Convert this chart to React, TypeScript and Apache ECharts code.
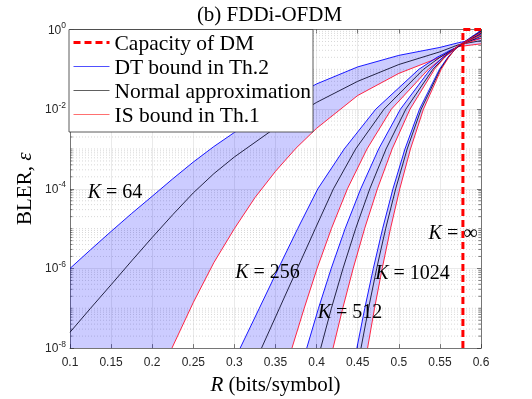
import React, { useEffect, useRef } from "react";
import * as echarts from "echarts";

// ---------- data ----------
const xMin = 0.1;
const xMax = 0.6;
const yMin = 1e-8;
const yMax = 1;

// K = 64
const dt64R = [0.1, 0.125, 0.15, 0.175, 0.2, 0.225, 0.25, 0.275, 0.3, 0.35, 0.4, 0.45, 0.5, 0.55, 0.573, 0.6];
const dt64E = [1.0e-6, 2.95e-6, 8.5e-6, 2.4e-5, 6.5e-5, 1.78e-4, 4.7e-4, 1.15e-3, 2.6e-3, 1.17e-2, 4.3e-2, 0.115, 0.224, 0.355, 0.468, 0.603];
const na64R = [0.1, 0.125, 0.15, 0.175, 0.2, 0.225, 0.25, 0.275, 0.3, 0.35, 0.4, 0.45, 0.5, 0.55, 0.573, 0.6];
const na64E = [2.5e-8, 1.0e-7, 3.9e-7, 1.55e-6, 6.0e-6, 2.24e-5, 7.9e-5, 2.4e-4, 6.3e-4, 3.4e-3, 1.48e-2, 5.0e-2, 0.132, 0.275, 0.417, 0.525];
const is64R = [0.224, 0.25, 0.275, 0.3, 0.325, 0.35, 0.375, 0.4, 0.45, 0.5, 0.55, 0.573, 0.6];
const is64E = [1.0e-8, 1.4e-7, 1.4e-6, 1.0e-5, 6.0e-5, 2.75e-4, 1.05e-3, 3.3e-3, 2.2e-2, 7.9e-2, 0.2, 0.372, 0.437];

// K = 256
const dt256R = [0.307, 0.3303, 0.3535, 0.377, 0.4015, 0.4336, 0.472, 0.5244, 0.5465, 0.5625, 0.576, 0.6];
const dt256E = [1e-8, 1e-7, 1e-6, 1e-5, 1e-4, 1e-3, 1e-2, 0.1, 0.2, 0.3, 0.4, 0.78];
const na256R = [0.333, 0.3548, 0.3766, 0.3984, 0.4205, 0.4475, 0.482, 0.53, 0.55, 0.564, 0.575, 0.6];
const na256E = [1e-8, 1e-7, 1e-6, 1e-5, 1e-4, 1e-3, 1e-2, 0.1, 0.2, 0.3, 0.4, 0.68];
const is256R = [0.37, 0.3849, 0.4006, 0.418, 0.4375, 0.4613, 0.491, 0.536, 0.554, 0.566, 0.574, 0.6];
const is256E = [1e-8, 1e-7, 1e-6, 1e-5, 1e-4, 1e-3, 1e-2, 0.1, 0.2, 0.3, 0.4, 0.6];

// K = 512
const dt512R = [0.388, 0.4023, 0.4178, 0.4347, 0.4537, 0.4755, 0.502, 0.5383, 0.5536, 0.5645, 0.574, 0.6];
const dt512E = [1e-8, 1e-7, 1e-6, 1e-5, 1e-4, 1e-3, 1e-2, 0.1, 0.2, 0.3, 0.4, 0.88];
const na512R = [0.405, 0.418, 0.4321, 0.4475, 0.4647, 0.4845, 0.5086, 0.5415, 0.5553, 0.5655, 0.574, 0.6];
const na512E = [1e-8, 1e-7, 1e-6, 1e-5, 1e-4, 1e-3, 1e-2, 0.1, 0.2, 0.3, 0.4, 0.8];
const is512R = [0.42, 0.4318, 0.4445, 0.4584, 0.474, 0.4919, 0.5137, 0.5434, 0.5559, 0.565, 0.5727, 0.6];
const is512E = [1e-8, 1e-7, 1e-6, 1e-5, 1e-4, 1e-3, 1e-2, 0.1, 0.2, 0.3, 0.4, 0.72];

// K = 1024
const dt1024R = [0.449, 0.4586, 0.469, 0.4803, 0.4929, 0.5075, 0.5252, 0.5494, 0.5596, 0.567, 0.5733, 0.6];
const dt1024E = [1e-8, 1e-7, 1e-6, 1e-5, 1e-4, 1e-3, 1e-2, 0.1, 0.2, 0.3, 0.4, 0.95];
const na1024R = [0.454, 0.4632, 0.4731, 0.484, 0.4962, 0.5102, 0.5272, 0.5505, 0.5603, 0.5675, 0.5735, 0.6];
const na1024E = [1e-8, 1e-7, 1e-6, 1e-5, 1e-4, 1e-3, 1e-2, 0.1, 0.2, 0.3, 0.4, 0.9];
const is1024R = [0.462, 0.4705, 0.4798, 0.4899, 0.5012, 0.5142, 0.53, 0.5516, 0.5607, 0.5673, 0.5729, 0.6];
const is1024E = [1e-8, 1e-7, 1e-6, 1e-5, 1e-4, 1e-3, 1e-2, 0.1, 0.2, 0.3, 0.4, 0.85];

// Capacity of DM
const capR = [0.578, 0.578, 0.6];
const capE = [1e-8, 1, 1];

const legendNames = ["Capacity of DM", "DT bound in Th.2", "Normal approximation", "IS bound in Th.1"];
const kLabels = ["64", "256", "512", "1024", "∞"];

const bands = [
  { dtR: dt64R, dtE: dt64E, naR: na64R, naE: na64E, isR: is64R, isE: is64E },
  { dtR: dt256R, dtE: dt256E, naR: na256R, naE: na256E, isR: is256R, isE: is256E },
  { dtR: dt512R, dtE: dt512E, naR: na512R, naE: na512E, isR: is512R, isE: is512E },
  { dtR: dt1024R, dtE: dt1024E, naR: na1024R, naE: na1024E, isR: is1024R, isE: is1024E },
];

const SERIF = "'Liberation Serif', 'Times New Roman', serif";
const SANS = "'Liberation Sans', Arial, Helvetica, sans-serif";
const AX = "#262626";

const pairs = (r: number[], e: number[]) => r.map((v, i) => [v, e[i]]);

export default function App() {
  const ref = useRef<HTMLDivElement>(null);
  useEffect(() => {
    const chart = echarts.init(ref.current!, null, { renderer: "svg" });

    const minorVals: number[] = [];
    for (let d = -8; d < 0; d++) {
      for (let m = 1; m <= 9; m++) {
        if (m === 1 && d % 2 === 0) continue;
        minorVals.push(m * Math.pow(10, d));
      }
    }

    const lineSeries: any[] = [];
    bands.forEach((b) => {
      lineSeries.push({
        type: "line", name: legendNames[1], data: pairs(b.dtR, b.dtE), symbol: "none", z: 3, silent: true,
        lineStyle: { color: "#0000ff", width: 0.9 }, itemStyle: { color: "#0000ff" },
      });
      lineSeries.push({
        type: "line", name: legendNames[2], data: pairs(b.naR, b.naE), symbol: "none", z: 3, silent: true,
        lineStyle: { color: "#101030", width: 0.9 }, itemStyle: { color: "#101030" },
      });
      lineSeries.push({
        type: "line", name: legendNames[3], data: pairs(b.isR, b.isE), symbol: "none", z: 3, silent: true,
        lineStyle: { color: "#ff1030", width: 0.9 }, itemStyle: { color: "#ff1030" },
      });
    });

    const kText = (i: number, x: number, y: number) => ({
      type: "text", x, y, z: 50,
      style: {
        text: "{i|K} = " + kLabels[i],
        fontFamily: SERIF, fontSize: 20, fill: "#000", align: "center", verticalAlign: "middle",
        rich: { i: { fontFamily: SERIF, fontSize: 20, fontStyle: "italic", fill: "#000" } },
      },
    });

    const option: any = {
      animation: false,
      grid: { left: 70, top: 29.5, width: 411, height: 323.2, containLabel: false },
      xAxis: [
        {
          type: "value", min: xMin, max: xMax, interval: 0.05, position: "bottom",
          name: "{i|R} (bits/symbol)", nameLocation: "middle", nameGap: 24,
          nameTextStyle: {
            fontFamily: SERIF, fontSize: 21, color: "#000",
            rich: { i: { fontFamily: SERIF, fontSize: 21, fontStyle: "italic", color: "#000" } },
          },
          axisLine: { show: true, lineStyle: { color: AX, width: 0.6 } },
          axisTick: { show: true, inside: true, length: 4, lineStyle: { color: AX, width: 0.6 } },
          axisLabel: { color: AX, fontFamily: SANS, fontSize: 12, margin: 8 },
          splitLine: { show: true, lineStyle: { color: "#dcdcdc", width: 0.6 } },
        },
        {
          type: "value", min: xMin, max: xMax, interval: 0.05, position: "top",
          axisLine: { show: true, lineStyle: { color: AX, width: 0.6 } },
          axisTick: { show: true, inside: true, length: 4, lineStyle: { color: AX, width: 0.6 } },
          axisLabel: { show: false }, splitLine: { show: false },
        },
      ],
      yAxis: [
        {
          type: "log", logBase: 10, min: yMin, max: yMax, interval: 2, position: "left",
          name: "BLER, {i|ε}", nameLocation: "middle", nameGap: 36,
          nameTextStyle: {
            fontFamily: SERIF, fontSize: 21, color: "#000",
            rich: { i: { fontFamily: SERIF, fontSize: 21, fontStyle: "italic", color: "#000" } },
          },
          axisLine: { show: true, lineStyle: { color: AX, width: 0.6 } },
          axisTick: { show: true, inside: true, length: 4, lineStyle: { color: AX, width: 0.6 } },
          axisLabel: {
            margin: 4,
            formatter: (v: number) => "{b|10}{s|" + Math.round(Math.log10(v)) + "}",
            rich: {
              b: { fontFamily: SANS, fontSize: 12, color: AX },
              s: { fontFamily: SANS, fontSize: 8.5, color: AX, padding: [0, 0, 9, 0] },
            },
          },
          splitLine: { show: true, lineStyle: { color: "#dcdcdc", width: 0.6 } },
        },
        {
          type: "log", logBase: 10, min: yMin, max: yMax, interval: 2, position: "right",
          axisLine: { show: true, lineStyle: { color: AX, width: 0.6 } },
          axisTick: { show: true, inside: true, length: 4, lineStyle: { color: AX, width: 0.6 } },
          axisLabel: { show: false }, splitLine: { show: false },
        },
      ],
      legend: {
        data: [
          { name: legendNames[0], lineStyle: { width: 3 } },
          { name: legendNames[1], lineStyle: { width: 1, color: "#5050ff" } },
          { name: legendNames[2], lineStyle: { width: 1, color: "#606060" } },
          { name: legendNames[3], lineStyle: { width: 1, color: "#ff7070" } },
        ],
        orient: "vertical", left: 72, top: 31.5, padding: 0, itemGap: 2,
        itemWidth: 36, itemHeight: 14, selectedMode: false, z: 200,
        itemStyle: { opacity: 0 },
        textStyle: { fontFamily: SERIF, fontSize: 21.5, color: "#000", lineHeight: 22 },
      },
      graphic: [
        {
          type: "text", x: 269.5, y: 14, z: 50,
          style: { text: "(b) FDDi-OFDM", fontFamily: SERIF, fontSize: 21, fill: "#000", align: "center", verticalAlign: "middle" },
        },
        {
          type: "rect", z: 100, shape: { x: 69, y: 29.5, width: 244, height: 102.5 },
          style: { fill: "#ffffff", stroke: "#333333", lineWidth: 0.8 },
        },
        kText(0, 115, 191),
        kText(1, 267.5, 270.7),
        kText(2, 350, 311),
        kText(3, 412.5, 271.7),
        kText(4, 453, 231.7),
      ],
      series: [
        {
          type: "custom", name: "minorGrid", z: 1, silent: true, clip: false,
          encode: { x: 0, y: 1 },
          data: minorVals.map((v) => [0.35, v]),
          renderItem: (params: any, api: any) => {
            const v = api.value(1);
            const p0 = api.coord([xMin, v]);
            const p1 = api.coord([xMax, v]);
            return {
              type: "group",
              children: [
                { type: "line", shape: { x1: p0[0], y1: p0[1], x2: p1[0], y2: p1[1] }, style: { stroke: "#bdbdbd", lineWidth: 0.6, lineDash: [1, 2] } },
                { type: "line", shape: { x1: p0[0], y1: p0[1], x2: p0[0] + 2.5, y2: p0[1] }, style: { stroke: AX, lineWidth: 0.6 } },
                { type: "line", shape: { x1: p1[0] - 2.5, y1: p1[1], x2: p1[0], y2: p1[1] }, style: { stroke: AX, lineWidth: 0.6 } },
              ],
            };
          },
        },
        {
          type: "custom", name: "bands", z: 2, silent: true, clip: false,
          encode: { x: 0, y: 1 },
          data: bands.map((b, i) => [0.35, 1e-4, i]),
          renderItem: (params: any, api: any) => {
            const b = bands[params.dataIndex];
            const pts: number[][] = [];
            b.dtR.forEach((r, i) => pts.push(api.coord([r, b.dtE[i]])));
            for (let i = b.isR.length - 1; i >= 0; i--) pts.push(api.coord([b.isR[i], b.isE[i]]));
            pts.push(api.coord([b.dtR[0], yMin]));
            return { type: "polygon", shape: { points: pts }, style: { fill: "rgba(0,0,255,0.2)" } };
          },
        },
        ...lineSeries,
        {
          type: "line", name: legendNames[0], data: pairs(capR, capE), symbol: "none", z: 4, silent: true, clip: false,
          lineStyle: { color: "#ff0000", width: 3, type: [7, 4] }, itemStyle: { color: "#ff0000" },
        },
      ],
    };
    chart.setOption(option);
    return () => chart.dispose();
  }, []);
  return <div ref={ref} style={{ position: "fixed", left: 0, top: 0, width: 532, height: 399 }} />;
}
